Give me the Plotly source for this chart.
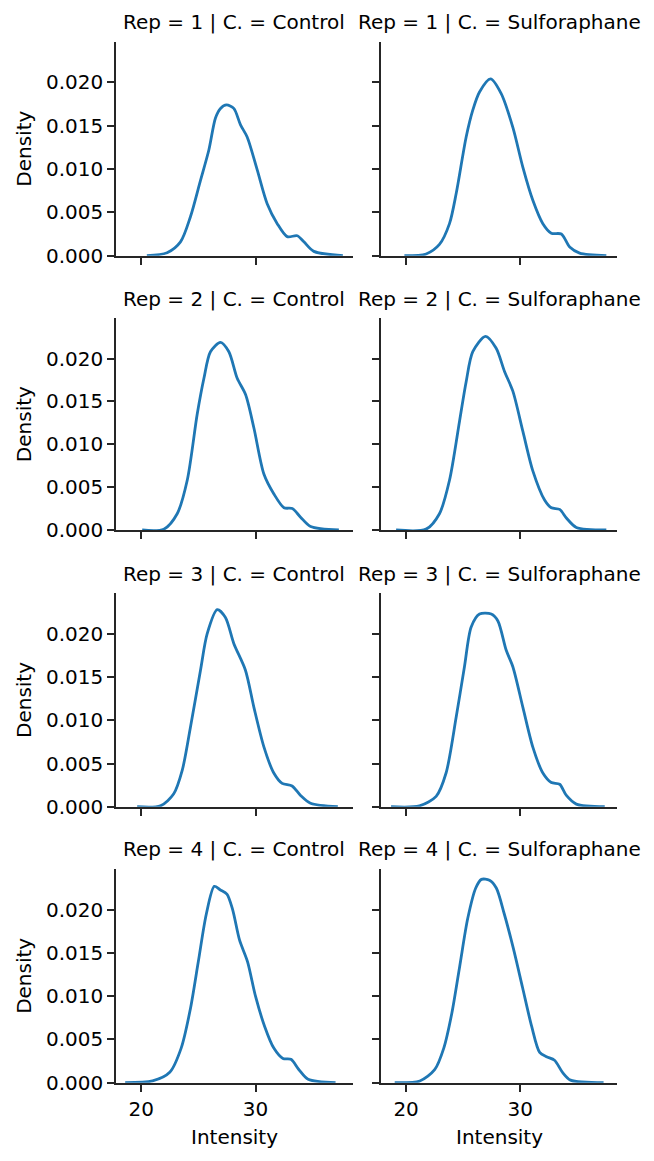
import plotly.graph_objects as go

# ---------------- data ----------------
reps = [1, 2, 3, 4]
conditions = ["Control", "Sulforaphane"]
x_ticks = [20, 30]
y_ticks = [0.0, 0.005, 0.010, 0.015, 0.020]
y_tick_labels = ["0.000", "0.005", "0.010", "0.015", "0.020"]

r1_control_x = [20.5, 22.27, 23.44, 24.31, 25.19, 25.92, 26.5, 26.94, 27.46, 28.1, 28.69, 29.27, 30.15, 31.02, 31.9, 32.77, 33.65, 34.23, 35.1, 37.64]
r1_control_d = [0.0, 0.00035, 0.0016, 0.0045, 0.0087, 0.0122, 0.0159, 0.0170, 0.0174, 0.0170, 0.0151, 0.0137, 0.0099, 0.0060, 0.0037, 0.0022, 0.0023, 0.0016, 0.0005, 0.0]

r1_sulfo_x = [19.85, 21.75, 22.92, 23.8, 24.39, 25.26, 25.84, 26.43, 27.4, 28.33, 29.35, 30.23, 31.1, 31.98, 32.72, 33.6, 34.33, 35.2, 37.54]
r1_sulfo_d = [0.0, 0.0002, 0.0013, 0.0037, 0.0072, 0.0137, 0.0168, 0.0189, 0.0204, 0.0187, 0.0148, 0.0102, 0.0064, 0.0037, 0.0026, 0.0025, 0.0010, 0.0003, 0.0]

r2_control_x = [20.09, 21.98, 23.15, 24.03, 24.9, 25.49, 26.06, 26.94, 27.67, 28.4, 29.13, 29.86, 30.74, 31.61, 32.49, 33.22, 33.94, 34.82, 37.29]
r2_control_d = [0.0, 0.0001, 0.0019, 0.0058, 0.0135, 0.0177, 0.0208, 0.0219, 0.0208, 0.0177, 0.0158, 0.0119, 0.0065, 0.0042, 0.0026, 0.0025, 0.0015, 0.0004, 0.0]

r2_sulfo_x = [19.12, 21.75, 22.92, 23.8, 24.68, 25.26, 25.84, 26.96, 27.89, 28.62, 29.35, 30.23, 31.1, 32.13, 32.72, 33.45, 34.04, 34.91, 37.54]
r2_sulfo_d = [0.0, 0.0001, 0.0019, 0.0058, 0.0127, 0.0173, 0.0208, 0.0226, 0.0212, 0.0185, 0.0162, 0.0115, 0.0069, 0.0035, 0.0026, 0.0024, 0.0014, 0.0003, 0.0]

r3_control_x = [19.65, 21.69, 22.85, 23.59, 24.31, 25.19, 25.77, 26.65, 27.37, 28.1, 29.12, 29.86, 30.74, 31.6, 32.33, 33.2, 33.94, 34.81, 37.2]
r3_control_d = [0.0, 0.0001, 0.0015, 0.0042, 0.0092, 0.0158, 0.0200, 0.0228, 0.0219, 0.0189, 0.0158, 0.0115, 0.0069, 0.0039, 0.0027, 0.0024, 0.0013, 0.0004, 0.0]

r3_sulfo_x = [18.68, 21.17, 22.63, 23.5, 24.39, 25.11, 25.7, 26.43, 27.46, 28.04, 28.77, 29.35, 30.23, 31.1, 31.98, 32.72, 33.45, 34.04, 34.91, 37.4]
r3_sulfo_d = [0.0, 0.0001, 0.0012, 0.0039, 0.0104, 0.0162, 0.0208, 0.0223, 0.0223, 0.0215, 0.0181, 0.0162, 0.0115, 0.0069, 0.0039, 0.0028, 0.0026, 0.0013, 0.0003, 0.0]

r4_control_x = [18.6, 21.0, 22.5, 23.5, 24.3, 25.0, 25.7, 26.4, 26.9, 27.5, 28.0, 28.6, 29.3, 30.0, 30.8, 31.6, 32.4, 33.1, 33.8, 34.6, 37.0]
r4_control_d = [0.0, 0.0002, 0.0012, 0.0040, 0.0085, 0.0140, 0.0195, 0.0227, 0.0223, 0.0218, 0.0200, 0.0165, 0.0140, 0.0100, 0.0065, 0.0040, 0.0028, 0.0027, 0.0015, 0.0004, 0.0]

r4_sulfo_x = [19.0, 21.2, 22.5, 23.3, 24.0, 24.7, 25.4, 26.1, 26.6, 27.3, 27.9, 28.6, 29.4, 30.2, 31.0, 31.7, 32.3, 33.0, 33.7, 34.4, 37.3]
r4_sulfo_d = [0.0, 0.0002, 0.0015, 0.0040, 0.0080, 0.0135, 0.0190, 0.0225, 0.0235, 0.0234, 0.0225, 0.0195, 0.0155, 0.0110, 0.0065, 0.0035, 0.0030, 0.0026, 0.0012, 0.0003, 0.0]

panel_x = [r1_control_x, r1_sulfo_x, r2_control_x, r2_sulfo_x,
           r3_control_x, r3_sulfo_x, r4_control_x, r4_sulfo_x]
panel_d = [r1_control_d, r1_sulfo_d, r2_control_d, r2_sulfo_d,
           r3_control_d, r3_sulfo_d, r4_control_d, r4_sulfo_d]

# ---------------- layout ----------------
W, H = 654, 1161
col_dom = [[116 / W, 352.7 / W], [381 / W, 617.3 / W]]
row_px = [(41.7, 255.7), (318.3, 530.0), (593.3, 806.7), (869.0, 1082.7)]
row_dom = [[1 - b / H, 1 - t / H] for t, b in row_px]

FONT = "DejaVu Sans"
FS = 20
INK = "#000000"
AX = "#262626"
LINE = "#1f77b4"

fig = go.Figure()
layout = dict(
    width=W, height=H,
    margin=dict(l=0, r=0, t=0, b=0, pad=0),
    paper_bgcolor="white", plot_bgcolor="white",
    showlegend=False,
    font=dict(family=FONT, size=FS, color=INK),
)
annotations = []

for i in range(8):
    r, c = divmod(i, 2)
    idx = i + 1
    xa = "xaxis" if idx == 1 else f"xaxis{idx}"
    ya = "yaxis" if idx == 1 else f"yaxis{idx}"
    xr = "x" if idx == 1 else f"x{idx}"
    yr = "y" if idx == 1 else f"y{idx}"
    fig.add_trace(go.Scatter(
        x=panel_x[i], y=panel_d[i], mode="lines",
        line=dict(color=LINE, width=2.8, shape="spline", smoothing=0.8),
        xaxis=xr, yaxis=yr, hoverinfo="skip",
    ))
    layout[xa] = dict(
        domain=col_dom[c], anchor=yr, range=[17.8, 38.5],
        showgrid=False, zeroline=False, automargin=False,
        showline=True, linecolor=AX, linewidth=1.6,
        ticks="outside", ticklen=7, tickwidth=1.6, tickcolor=AX,
        tickvals=x_ticks, ticktext=[str(v) for v in x_ticks],
        showticklabels=(r == 3),
        tickfont=dict(family=FONT, size=FS, color=INK),
    )
    layout[ya] = dict(
        domain=row_dom[r], anchor=xr, range=[0, 0.0247],
        showgrid=False, zeroline=False, automargin=False,
        showline=True, linecolor=AX, linewidth=1.6,
        ticks="outside", ticklen=7, tickwidth=1.6, tickcolor=AX,
        tickvals=y_ticks, ticktext=y_tick_labels,
        showticklabels=(c == 0),
        tickfont=dict(family=FONT, size=FS, color=INK),
    )
    # facet title
    annotations.append(dict(
        text=f"Rep = {reps[r]} | C. = {conditions[c]}",
        xref="paper", yref="paper",
        x=(col_dom[c][0] + col_dom[c][1]) / 2,
        y=1 - (row_px[r][0] - 19.7) / H,
        xanchor="center", yanchor="middle", showarrow=False,
        font=dict(family=FONT, size=FS, color=INK),
    ))
    if c == 0:
        annotations.append(dict(
            text="Density", xref="paper", yref="paper",
            x=24 / W, y=(row_dom[r][0] + row_dom[r][1]) / 2,
            xanchor="center", yanchor="middle", textangle=-90, showarrow=False,
            font=dict(family=FONT, size=FS, color=INK),
        ))
    if r == 3:
        annotations.append(dict(
            text="Intensity", xref="paper", yref="paper",
            x=(col_dom[c][0] + col_dom[c][1]) / 2, y=1 - 1137 / H,
            xanchor="center", yanchor="middle", showarrow=False,
            font=dict(family=FONT, size=FS, color=INK),
        ))

layout["annotations"] = annotations
fig.update_layout(**layout)
fig.write_html(
    "out.html",
    post_script="document.body.style.margin='0';document.body.style.overflow='hidden';",
)
